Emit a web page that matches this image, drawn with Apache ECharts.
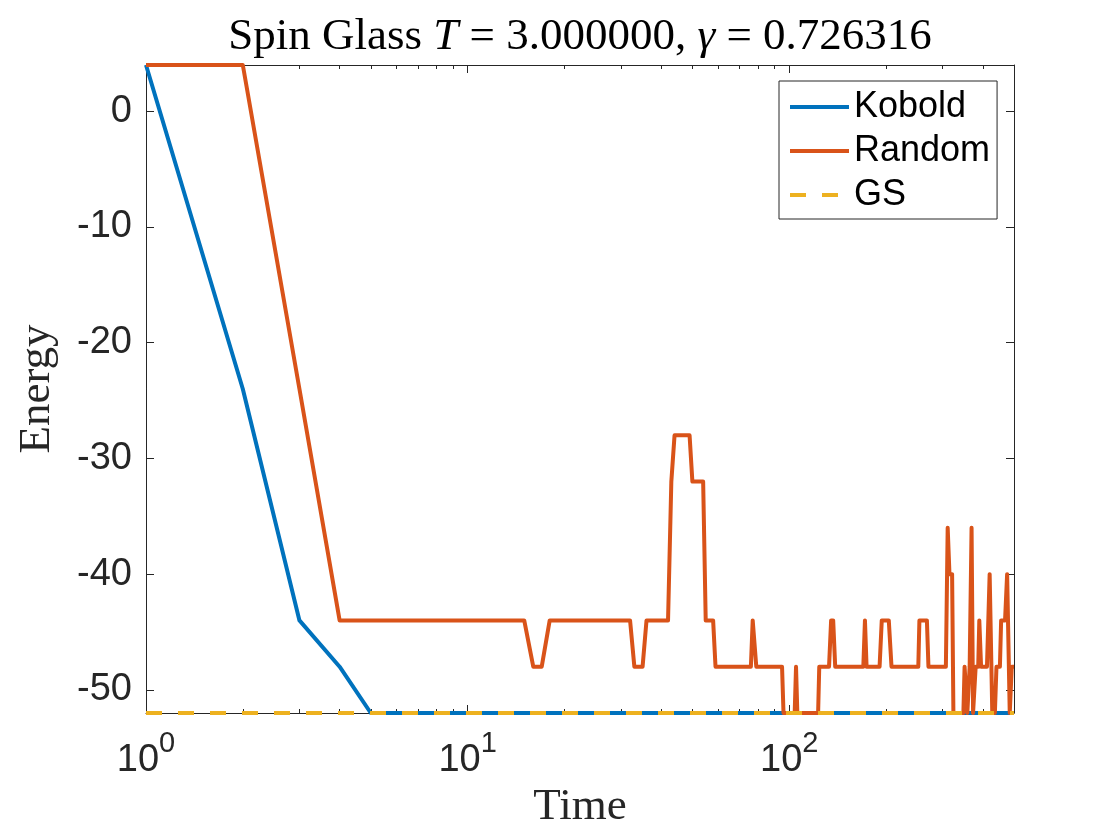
<!DOCTYPE html>
<html>
<head>
<meta charset="utf-8">
<script src="https://cdn.jsdelivr.net/npm/echarts@6/dist/echarts.min.js"></script>
<style>
html, body { margin: 0; padding: 0; background: #fff; }
#main { width: 1120px; height: 840px; }
</style>
</head>
<body>
<div id="main"></div>
<script>
// energy traces, only the points where the step value changes
var koboldT = [1, 2, 3, 4, 5, 500];
var koboldE = [4, -24, -44, -48, -52, -52];

var randomT = [1, 2, 3, 4, 15, 16, 17, 18, 32, 33, 35, 36, 42, 43, 44, 49, 50, 54, 55, 58, 59,
	76, 77, 78, 79, 95, 96, 104, 105, 106, 123, 124, 133, 135, 137, 139, 170, 172, 174,
	191, 194, 204, 208, 252, 254, 268, 271, 307, 311, 315, 321, 324, 348, 351, 355, 358,
	361, 364, 366, 369, 373, 377, 380, 387, 390, 395, 412, 420, 423, 428, 436, 441, 452,
	456, 469, 476, 479, 485, 490, 492, 500];
var randomE = [4, 4, -24, -44, -44, -48, -48, -44, -44, -48, -48, -44, -44, -32, -28, -28, -32, -32, -44, -44, -48,
	-48, -44, -44, -48, -48, -52, -52, -48, -52, -52, -48, -48, -44, -44, -48, -48, -44, -48,
	-48, -44, -44, -48, -48, -44, -44, -48, -48, -36, -40, -40, -52, -52, -48, -48, -52,
	-52, -48, -48, -36, -52, -52, -48, -48, -44, -48, -48, -40, -40, -52, -52, -48, -48,
	-44, -44, -40, -40, -52, -52, -48, -48];

var gsT = [1, 500];
var gsE = [-52, -52];

// ticks
var xMajor = [1, 10, 100];
var xMinor = [2, 3, 4, 5, 6, 7, 8, 9, 20, 30, 40, 50, 60, 70, 80, 90, 200, 300, 400, 500];
var yTicks = [-50, -40, -30, -20, -10, 0];

function pairs(ts, es) {
	var out = [];
	for (var i = 0; i < ts.length; i++) {
		out.push([ts[i], es[i]]);
	}
	return out;
}

var axisColor = '#262626';
var sans = 'Liberation Sans';
var serif = 'Liberation Serif';
var lw = 4;

function xAxisDef(pos, ticks, len, withLabels) {
	var ax = {
		type: 'log',
		logBase: 10,
		min: 1,
		max: 500,
		position: pos,
		axisLine: { show: len > 5, onZero: false, lineStyle: { color: axisColor, width: 1 } },
		axisTick: { show: true, inside: true, length: len, customValues: ticks, lineStyle: { color: axisColor, width: 1 } },
		axisLabel: { show: false },
		splitLine: { show: false },
		minorTick: { show: false }
	};
	if (withLabels) {
		ax.axisLabel = {
			show: true,
			customValues: xMajor,
			margin: 16,
			formatter: function (v) {
				return '{b|10}{s|' + Math.round(Math.log10(v)) + '}';
			},
			rich: {
				b: { fontFamily: sans, fontSize: 38, color: axisColor },
				s: { fontFamily: sans, fontSize: 29, color: axisColor, padding: [0, 0, 35, 0] }
			}
		};
		ax.name = 'Time';
		ax.nameLocation = 'middle';
		ax.nameGap = 66;
		ax.nameTextStyle = { fontFamily: serif, fontSize: 45, color: axisColor };
	}
	return ax;
}

var myChart = echarts.init(document.getElementById('main'));

var option = {
	animation: false,
	backgroundColor: '#fff',
	title: {
		text: '{r|Spin Glass }{i|T}{r| = 3.000000, }{i|γ}{r| = 0.726316}',
		left: 580,
		top: 15,
		padding: 0,
		textAlign: 'center',
		textStyle: {
			fontWeight: 'normal',
			rich: {
				r: { fontFamily: serif, fontSize: 45, fontWeight: 'normal', color: '#000' },
				i: { fontFamily: serif, fontSize: 45, fontWeight: 'normal', fontStyle: 'italic', color: '#000' }
			}
		}
	},
	legend: {
		orient: 'vertical',
		left: 779,
		top: 81,
		padding: [4, 7, 2, 9],
		itemGap: 0,
		itemWidth: 59,
		itemHeight: 20,
		borderColor: axisColor,
		borderWidth: 1,
		backgroundColor: '#fff',
		itemStyle: { opacity: 0 },
		lineStyle: { width: lw },
		textStyle: { fontFamily: sans, fontSize: 36, color: '#000', lineHeight: 44 },
		data: ['Kobold', 'Random', 'GS']
	},
	grid: {
		left: 146,
		right: 106,
		top: 65,
		bottom: 127,
		containLabel: false
	},
	xAxis: [
		xAxisDef('bottom', xMajor, 8, true),
		xAxisDef('top', xMajor, 8, false),
		xAxisDef('bottom', xMinor, 4, false),
		xAxisDef('top', xMinor, 4, false)
	],
	yAxis: [
		{
			type: 'value',
			min: -52,
			max: 4,
			position: 'left',
			axisLine: { show: true, onZero: false, lineStyle: { color: axisColor, width: 1 } },
			axisTick: { show: true, inside: true, length: 8, customValues: yTicks, lineStyle: { color: axisColor, width: 1 } },
			axisLabel: { customValues: yTicks, margin: 14, fontFamily: sans, fontSize: 38, color: axisColor },
			splitLine: { show: false },
			name: 'Energy',
			nameLocation: 'middle',
			nameGap: 86,
			nameTextStyle: { fontFamily: serif, fontSize: 45, color: axisColor }
		},
		{
			type: 'value',
			min: -52,
			max: 4,
			position: 'right',
			axisLine: { show: true, onZero: false, lineStyle: { color: axisColor, width: 1 } },
			axisTick: { show: true, inside: true, length: 8, customValues: yTicks, lineStyle: { color: axisColor, width: 1 } },
			axisLabel: { show: false },
			splitLine: { show: false }
		}
	],
	series: [
		{
			name: 'Kobold',
			type: 'line',
			xAxisIndex: 0,
			yAxisIndex: 0,
			data: pairs(koboldT, koboldE),
			symbol: 'none',
			clip: false,
			itemStyle: { color: '#0072BD' },
			lineStyle: { color: '#0072BD', width: lw, join: 'round' }
		},
		{
			name: 'Random',
			type: 'line',
			xAxisIndex: 0,
			yAxisIndex: 0,
			data: pairs(randomT, randomE),
			symbol: 'none',
			clip: false,
			itemStyle: { color: '#D95319' },
			lineStyle: { color: '#D95319', width: lw, join: 'round' }
		},
		{
			name: 'GS',
			type: 'line',
			xAxisIndex: 0,
			yAxisIndex: 0,
			data: pairs(gsT, gsE),
			symbol: 'none',
			clip: false,
			itemStyle: { color: '#EDB120' },
			lineStyle: { color: '#EDB120', width: lw, type: [16, 16] }
		}
	]
};

myChart.setOption(option);
</script>
</body>
</html>
